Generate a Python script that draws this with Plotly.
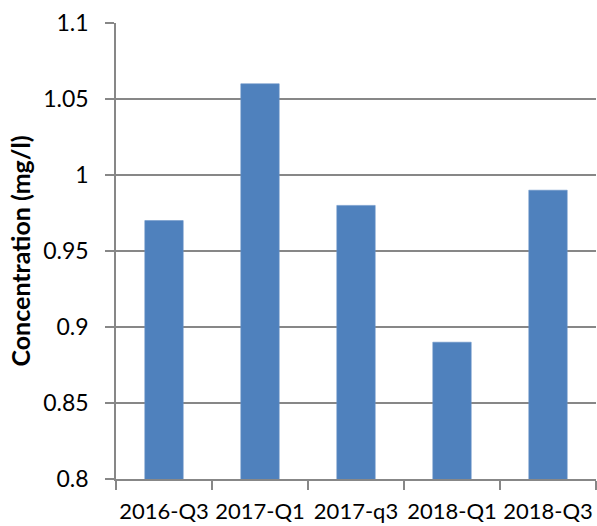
import plotly.graph_objects as go

# Quarterly sampling periods and measured concentrations (mg/l)
periods = ["2016-Q3", "2017-Q1", "2017-q3", "2018-Q1", "2018-Q3"]
concentration = [0.97, 1.06, 0.98, 0.89, 0.99]

y_min, y_max, y_step = 0.8, 1.1, 0.05

bar_color = "#4F81BD"
grid_color = "#878787"
font_family = "Lato"

fig = go.Figure(
    go.Bar(
        x=periods,
        y=concentration,
        marker=dict(color=bar_color, line=dict(color="#6A93C8", width=0.6)),
    )
)

fig.update_layout(
    width=597,
    height=526,
    margin=dict(l=116, r=1, t=23, b=47),
    paper_bgcolor="white",
    plot_bgcolor="white",
    bargap=0.6,
    showlegend=False,
    font=dict(family=font_family, color="black", size=22),
)

fig.update_yaxes(
    range=[y_min, y_max],
    dtick=y_step,
    tick0=y_min,
    showgrid=True,
    gridcolor=grid_color,
    gridwidth=1.5,
    showline=True,
    linecolor=grid_color,
    linewidth=1.5,
    ticks="outside",
    ticklen=9,
    tickcolor=grid_color,
    tickwidth=1.5,
    ticklabelstandoff=12,
    tickfont=dict(size=23),
    zeroline=False,
    automargin=False,
    title=dict(
        text="<b>Concentration (mg/l)</b>",
        font=dict(size=25, family=font_family),
        standoff=5,
    ),
)

fig.update_xaxes(
    showline=True,
    linecolor=grid_color,
    linewidth=1.5,
    ticks="outside",
    tickson="boundaries",
    ticklen=9,
    tickcolor=grid_color,
    tickwidth=1.5,
    tickangle=0,
    ticklabelstandoff=12,
    tickfont=dict(size=22),
    showgrid=False,
    automargin=False,
)

fig.write_html("out.html")
